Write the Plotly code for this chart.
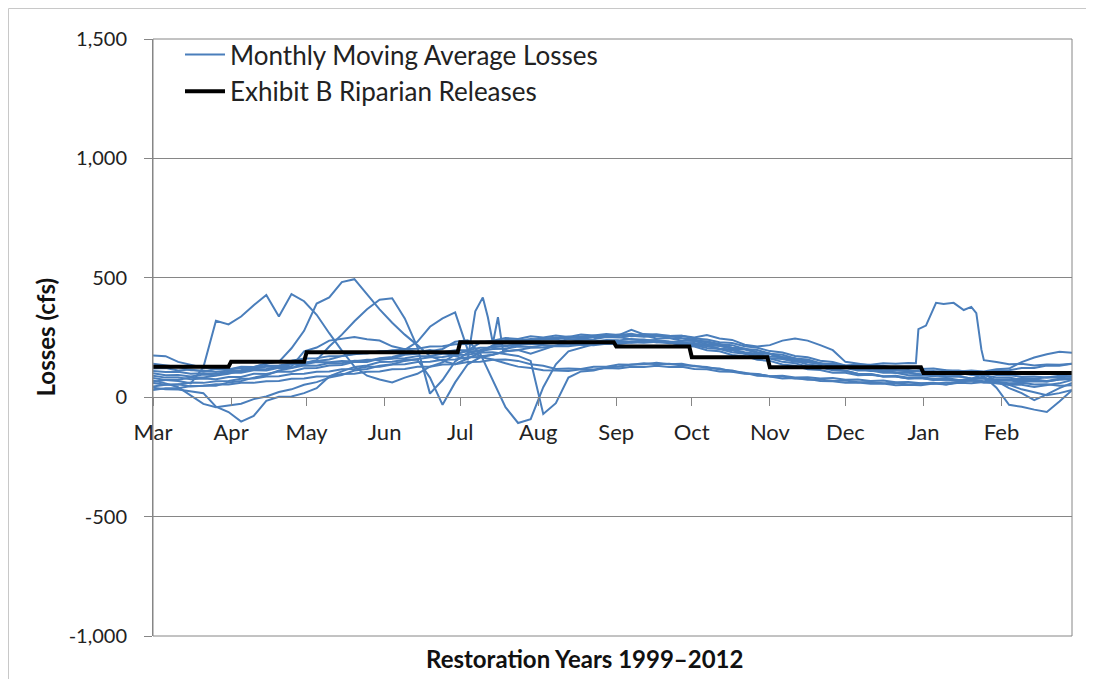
import plotly.graph_objects as go

# ---------------- data ----------------
DAYS = list(range(0, 366, 5))  # days since Mar 1, every 5 days (74 points)
# two series are read at a finer spacing around their spikes
DAYS_D = DAYS[:26] + [128, 131, 133, 135, 137, 139] + DAYS[29:]
DAYS_I = DAYS[:61] + [303, 304, 307, 311, 314, 318, 322, 325, 327, 329, 330] + DAYS[67:]

MONTH_LABELS = ["Mar", "Apr", "May", "Jun", "Jul", "Aug", "Sep", "Oct", "Nov", "Dec", "Jan", "Feb"]
MONTH_START_DAYS = [0, 31, 61, 92, 122, 153, 184, 214, 245, 275, 306, 337]
YEAR_END_DAY = 365

Y_TICK_VALUES = [-1000, -500, 0, 500, 1000, 1500]
Y_TICK_LABELS = ["-1,000", "-500", "0", "500", "1,000", "1,500"]

# Exhibit B riparian release level for each month (cfs)
RELEASE_BY_MONTH = [128, 148, 188, 188, 230, 230, 212, 167, 125, 125, 101, 101]

# Monthly moving average losses (cfs), one list per restoration year
loss_a = [80, 72, 68, 58, 125, 320, 305, 338, 385, 428,
          338, 432, 402, 345, 268, 195, 128, 90, 74, 62,
          82, 98, 128, 146, 178, 196, 228, 236, 248, 244,
          255, 250, 258, 252, 262, 258, 265, 260, 266, 255,
          258, 248, 247, 236, 234, 222, 218, 202, 198, 182,
          178, 162, 158, 142, 138, 122, 120, 110, 110, 102,
          104, 93, 92, 86, 88, 78, 80, 73, 75, 68,
          72, 66, 74, 75]
loss_b = [120, 122, 112, 116, 108, 118, 116, 128, 126, 142,
          148, 205, 278, 392, 418, 482, 494, 432, 368, 312,
          262, 218, 172, 152, 138, 162, 186, 218, 226, 238,
          236, 248, 246, 254, 248, 258, 254, 262, 255, 258,
          246, 248, 236, 235, 222, 220, 206, 203, 186, 182,
          166, 162, 146, 142, 126, 122, 112, 112, 102, 102,
          92, 92, 88, 95, 92, 103, 102, 112, 113, 122,
          122, 133, 132, 140]
loss_c = [60, 52, 54, 45, 48, 48, 62, 68, 82, 92,
          112, 122, 143, 155, 212, 262, 318, 368, 408, 414,
          330, 210, 15, 72, 150, 186, 198, 213, 212, 224,
          222, 233, 232, 243, 242, 253, 252, 260, 257, 265,
          258, 257, 247, 242, 228, 223, 207, 203, 187, 182,
          162, 152, 137, 132, 117, 112, 97, 97, 87, 87,
          78, 80, 72, 74, 68, 70, 62, 62, 52, 52,
          43, 52, 58, 72]
loss_d = [100, 92, 93, 87, 95, 92, 103, 102, 113, 112,
          123, 122, 133, 132, 143, 142, 153, 152, 163, 168,
          182, 188, 198, 187, 172, 158, 360, 418, 335, 226,
          335, 196, 222,
          232, 243, 242, 251, 247, 255, 252, 252, 242, 242,
          232, 230, 217, 212, 197, 192, 177, 172, 157, 152,
          137, 132, 117, 114, 102, 102, 92, 94, 87, 90,
          82, 84, 77, 80, 72, 74, 67, 74, 72, 80,
          77, 84, 82, 88]
loss_e = [90, 82, 83, 75, 78, 75, 85, 85, 98, 97,
          108, 107, 121, 122, 133, 135, 148, 147, 161, 162,
          178, 182, 193, 202, 232, 238, 182, 68, -42, -108,
          -92, 42, 138, 192, 208, 222, 226, 234, 232, 238,
          230, 230, 220, 217, 206, 202, 188, 182, 168, 162,
          148, 142, 128, 124, 113, 110, 98, 97, 88, 87,
          78, 80, 73, 74, 68, 70, 63, 64, 58, 60,
          53, 54, 48, 50]
loss_f = [70, 58, 42, 8, -28, -42, -33, -27, -8, 3,
          22, 33, 52, 63, 82, 93, 112, 118, 132, 138,
          152, 158, 167, 168, 177, 178, 187, 188, 182, 173,
          152, -70, -25, 82, 108, 112, 125, 128, 137, 138,
          144, 138, 140, 130, 127, 116, 112, 100, 97, 88,
          87, 78, 77, 68, 67, 60, 62, 56, 57, 50,
          52, 50, 57, 53, 60, 58, 64, 58, 52, 33,
          22, 8, 17, 30]
loss_g = [40, 33, 32, 23, 17, -40, -62, -102, -78, -15,
          2, 3, 17, 38, 87, 108, 127, 133, 147, 148,
          157, 158, 82, -32, 62, 138, 167, 178, 192, 198,
          207, 208, 214, 213, 220, 218, 224, 223, 230, 228,
          232, 226, 227, 216, 214, 203, 200, 188, 182, 170,
          167, 156, 152, 140, 137, 126, 122, 113, 112, 103,
          102, 96, 97, 88, 87, 78, 77, 68, 70, 64,
          67, 66, 74, 78]
loss_h = [175, 172, 148, 137, 123, 122, 116, 122, 123, 132,
          133, 142, 143, 152, 158, 172, 178, 187, 188, 197,
          198, 232, 295, 330, 355, 198, 172, 178, 192, 198,
          182, 198, 217, 228, 242, 243, 252, 250, 257, 253,
          257, 256, 257, 250, 260, 246, 240, 220, 212, 218,
          237, 246, 237, 218, 197, 148, 142, 133, 132, 123,
          124, 118, 120, 113, 112, 103, 102, 93, 92, 86,
          87, 83, 90, 88]
loss_i = [110, 106, 107, 98, 100, 98, 107, 108, 117, 118,
          127, 128, 192, 208, 237, 246, 252, 243, 237, 213,
          202, 188, 187, 188, 197, 198, 207, 208, 217, 218,
          224, 223, 230, 228, 234, 233, 240, 238, 244, 238,
          240, 233, 232, 220, 217, 203, 197, 183, 177, 163,
          160, 148, 147, 138, 140, 133, 137, 136, 142, 140,
          143, 142, 285, 300, 395, 390, 395, 365, 378, 352,
          200, 155,
          147, 138, 140, 133, 137, 136, 140]
loss_j = [65, 72, 73, 82, 83, 92, 98, 112, 118, 127,
          128, 137, 138, 147, 146, 152, 150, 157, 156, 162,
          163, 172, 173, 182, 183, 192, 193, 202, 203, 212,
          210, 217, 216, 222, 220, 227, 223, 230, 228, 234,
          230, 232, 226, 227, 218, 214, 203, 200, 188, 182,
          168, 162, 148, 142, 130, 127, 118, 120, 113, 114,
          108, 110, 106, 112, 108, 112, 108, 117, 120, 147,
          166, 180, 190, 186]
loss_k = [45, 52, 53, 62, 60, 67, 68, 77, 78, 87,
          88, 97, 98, 107, 108, 117, 118, 127, 128, 137,
          138, 147, 148, 157, 158, 167, 168, 158, 142, 128,
          122, 113, 112, 110, 117, 116, 122, 120, 127, 126,
          132, 126, 127, 118, 117, 108, 107, 98, 97, 88,
          90, 83, 84, 78, 80, 73, 74, 68, 70, 63,
          64, 58, 60, 53, 64, 73, 87, 40, -32, -40,
          -52, -62, -18, 29]
loss_l = [30, 37, 38, 47, 48, 54, 53, 60, 60, 67,
          68, 77, 78, 87, 88, 97, 98, 107, 108, 117,
          118, 127, 128, 137, 138, 147, 148, 157, 158, 152,
          138, 132, 118, 120, 118, 127, 128, 137, 136, 142,
          138, 140, 133, 132, 123, 120, 108, 102, 90, 87,
          78, 80, 73, 74, 68, 70, 63, 64, 58, 60,
          53, 57, 56, 62, 63, 77, 98, 67, 38, 17,
          -12, 12, 38, 60]
loss_m = [140, 133, 127, 113, 112, 106, 112, 113, 127, 138,
          152, 153, 162, 163, 172, 173, 182, 183, 192, 193,
          202, 203, 212, 213, 222, 223, 232, 233, 240, 238,
          244, 243, 250, 248, 254, 253, 260, 260, 282, 263,
          264, 256, 257, 246, 242, 230, 227, 213, 207, 193,
          187, 173, 167, 153, 147, 133, 130, 120, 120, 113,
          114, 108, 110, 103, 102, 93, 92, 83, 82, 73,
          74, 68, 77, 80]

LOSS_SERIES = [
    (DAYS, loss_a), (DAYS, loss_b), (DAYS, loss_c), (DAYS_D, loss_d),
    (DAYS, loss_e), (DAYS, loss_f), (DAYS, loss_g), (DAYS, loss_h),
    (DAYS_I, loss_i), (DAYS, loss_j), (DAYS, loss_k), (DAYS, loss_l),
    (DAYS, loss_m),
]

# ---------------- figure ----------------
BLUE = "#4A7EBB"
GRID = "#868686"
FONT = "Lato, 'Open Sans', sans-serif"

fig = go.Figure()

for k, (days, series) in enumerate(LOSS_SERIES):
    fig.add_trace(go.Scatter(
        x=days, y=series, mode="lines",
        line=dict(color=BLUE, width=2),
        name="Monthly Moving Average Losses",
        showlegend=(k == 0), legendgroup="losses",
        hoverinfo="skip",
    ))

# step line of releases, built from monthly levels
bounds = MONTH_START_DAYS + [YEAR_END_DAY]
rx, ry = [], []
for m, level in enumerate(RELEASE_BY_MONTH):
    last = m == len(RELEASE_BY_MONTH) - 1
    rx += [bounds[m], bounds[m + 1] if last else bounds[m + 1] - 1]
    ry += [level, level]
fig.add_trace(go.Scatter(
    x=rx, y=ry, mode="lines",
    line=dict(color="black", width=4),
    name="Exhibit B Riparian Releases",
    hoverinfo="skip",
))

# page body has an 8px margin; figure sized to fit the window
W, H = 1086, 671
L, R, T, B = 145, 22, 31, 43
pw, ph = W - L - R, H - T - B

fig.update_layout(
    width=W, height=H,
    margin=dict(l=L, r=R, t=T, b=B, pad=0),
    paper_bgcolor="white", plot_bgcolor="white",
    font=dict(family=FONT, size=20, color="#222222"),
    showlegend=True,
    legend=dict(
        x=(172 - L) / pw, y=1.0 + 8 / ph, xanchor="left", yanchor="top",
        bgcolor="rgba(0,0,0,0)", font=dict(size=26, color="#222222"),
        itemwidth=40, tracegroupgap=0,
    ),
    xaxis=dict(
        range=[0, YEAR_END_DAY],
        tickvals=MONTH_START_DAYS, ticktext=MONTH_LABELS,
        anchor="free", position=0.4,
        showline=True, linecolor=GRID, linewidth=1,
        ticks="outside", ticklen=8, tickcolor=GRID,
        showgrid=False, zeroline=False,
        ticklabelstandoff=7,
        tickfont=dict(size=22, color="#222222"),
    ),
    yaxis=dict(
        range=[-1000, 1500],
        tickvals=Y_TICK_VALUES, ticktext=Y_TICK_LABELS,
        showline=True, linecolor=GRID, linewidth=1,
        ticks="outside", ticklen=8, tickcolor=GRID,
        showgrid=True, gridcolor=GRID, gridwidth=1,
        zeroline=False,
        ticklabelstandoff=13,
        tickfont=dict(size=20, color="#222222"),
    ),
)

# plot area border
fig.add_shape(type="rect", xref="x domain", yref="y domain",
              x0=0, x1=1, y0=0, y1=1, line=dict(color=GRID, width=1))
# outer chart border (top and left edges)
top_y = 1 + (T - 0.5) / ph
left_x = (0.5 - L) / pw
fig.add_shape(type="line", xref="paper", yref="paper",
              x0=left_x, x1=(W - L) / pw, y0=top_y, y1=top_y,
              line=dict(color="#C8C8C8", width=1))
fig.add_shape(type="line", xref="paper", yref="paper",
              x0=left_x, x1=left_x, y0=top_y, y1=-B / ph,
              line=dict(color="#C8C8C8", width=1))

# axis titles
fig.add_annotation(text="<b>Losses (cfs)</b>", xref="paper", yref="paper",
                   x=(37 - L) / pw, y=0.5, textangle=-90, showarrow=False,
                   xanchor="center", yanchor="middle",
                   font=dict(size=24, family=FONT, color="#111111"))
fig.add_annotation(text="<b>Restoration Years 1999–2012</b>", xref="paper", yref="paper",
                   x=(576 - L) / pw, y=(H - B - 650) / ph, showarrow=False,
                   xanchor="center", yanchor="middle",
                   font=dict(size=24, family=FONT, color="#111111"))

fig.write_html("out.html")
